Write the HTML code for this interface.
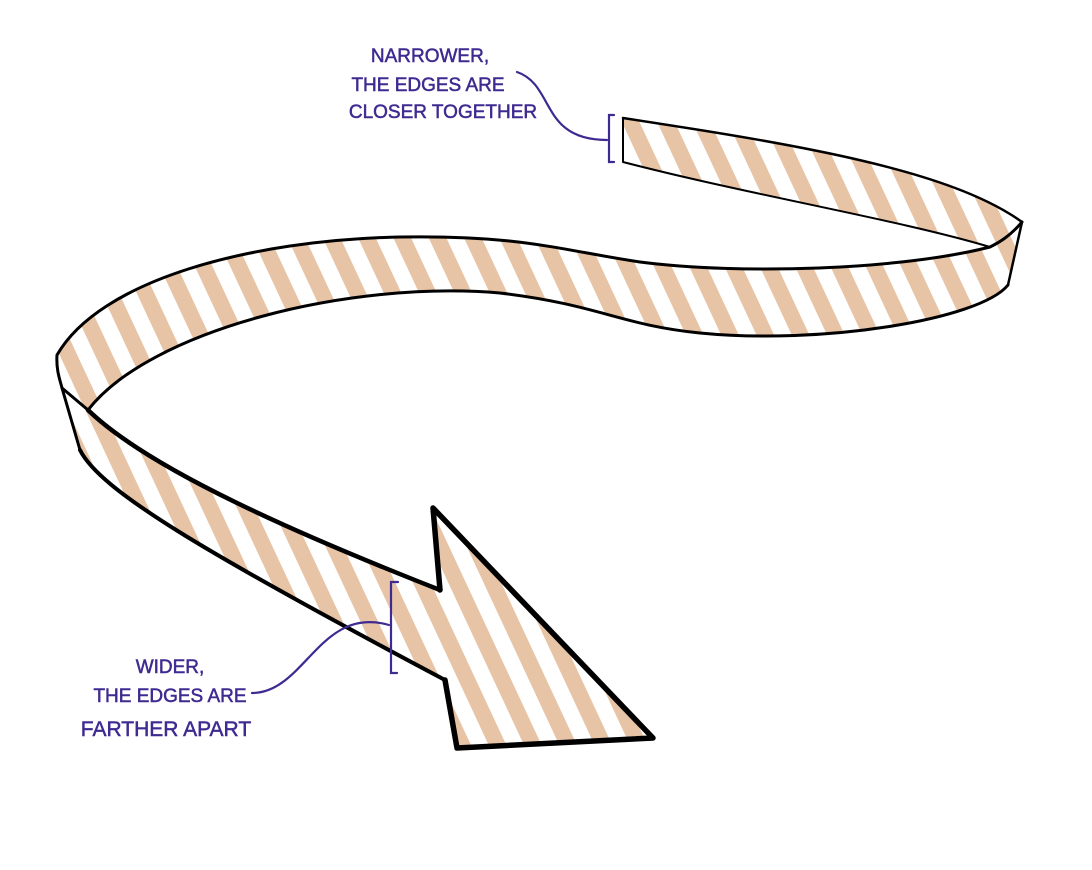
<!DOCTYPE html>
<html><head><meta charset="utf-8"><style>
html,body{margin:0;padding:0;background:#fff;}
svg{display:block}
text{font-family:"Liberation Sans Narrow","Liberation Sans",sans-serif;fill:#3f2a91;font-size:19px;text-anchor:middle;stroke:#3f2a91;stroke-width:0.5}
</style></head><body>
<svg width="1092" height="870" viewBox="0 0 1092 870" xmlns="http://www.w3.org/2000/svg">
<defs>
<pattern id="st" width="32" height="40" patternUnits="userSpaceOnUse" patternTransform="rotate(-25)">
<rect width="32" height="40" fill="#fff"/>
<rect width="16" height="40" fill="#e8c4a6"/>
</pattern>
</defs>
<path d="M623,118 C800,145 950,170 1022,222 L990,247 C900,220 750,195 623,162 Z" fill="url(#st)"/>
<path d="M990,247 C900,270 740,275 640,262 C560,250 520,235 400,237 C250,240 100,280 57,355 C56,370 60,380 62,388 L80,450 C100,490 200,550 445,680 L457,748 L653,738 L433,508 L440,590 C300,535 150,470 88,410 C150,330 350,280 500,293 C600,305 620,325 700,333 C820,345 980,320 1008,285 L1022,222 Z" fill="url(#st)"/>
<g fill="none" stroke="#000" stroke-linejoin="round" stroke-linecap="round">
<path d="M623,118 C800,145 950,170 1022,222 L1008,285" stroke-width="2.5"/>
<path d="M623,118 L623,162 C750,195 900,220 990,247" stroke-width="2"/>
<path d="M1022,222 C1010,236 1000,242 990,247 C900,270 740,275 640,262 C560,250 520,235 400,237 C250,240 100,280 57,355 C56,370 60,380 62,388 L80,450" stroke-width="3"/>
<path d="M80,450 C100,490 200,550 445,680" stroke-width="4"/>
<path d="M1008,285 C980,320 820,345 700,333 C620,325 600,305 500,293 C350,280 150,330 88,410 L62,388" stroke-width="3"/>
<path d="M88,410 C150,470 300,535 440,590" stroke-width="4.5"/>
<path d="M440,590 L433,508 L653,738 L457,748 L445,680" stroke-width="5.5"/>
</g>
<g fill="none" stroke="#3f2a91" stroke-width="2.2" stroke-linecap="round">
<path d="M614,115 L609,115 L609,162 L614,162"/>
<path d="M517,72 C555,85 540,140 607,140"/>
<path d="M398,582 L391,582 L391,673 L397,673"/>
<path d="M252,693 C305,693 320,605 389,625"/>
</g>
<text x="430" y="62">NARROWER,</text>
<text x="428" y="91">THE EDGES ARE</text>
<text x="443" y="118">CLOSER TOGETHER</text>
<text x="170" y="673">WIDER,</text>
<text x="170" y="702">THE EDGES ARE</text>
<text x="166" y="736" style="font-size:21px">FARTHER APART</text>
</svg>
</body></html>
